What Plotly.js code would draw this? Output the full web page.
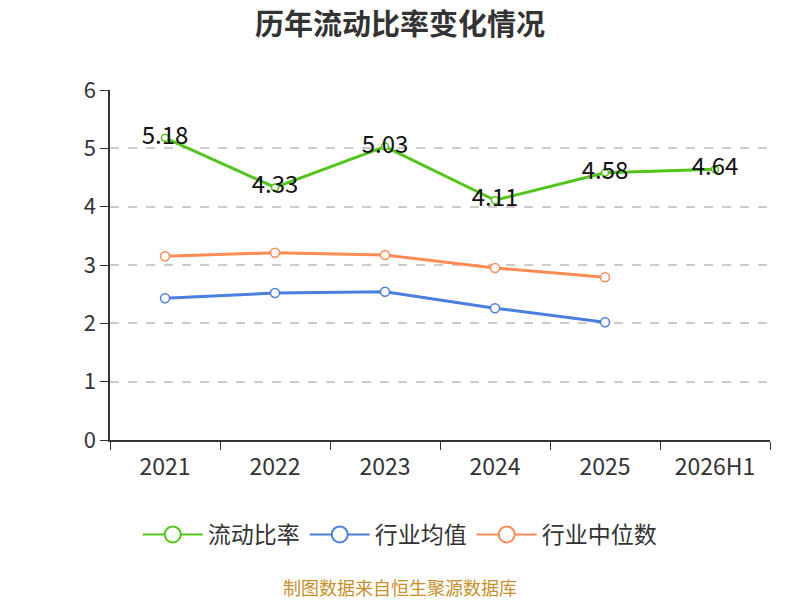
<!DOCTYPE html>
<html>
<head>
<meta charset="utf-8">
<script src="https://cdn.plot.ly/plotly-3.0.1.min.js"></script>
<style>
  body { margin: 0; background: #fff; }
  #chart { width: 800px; height: 600px; }
</style>
</head>
<body>
<div id="chart"></div>
<script>
var years = ['2021', '2022', '2023', '2024', '2025', '2026H1'];
var currentRatio = [5.18, 4.33, 5.03, 4.11, 4.58, 4.64];
var industryMean = [2.43, 2.52, 2.54, 2.26, 2.02];
var industryMedian = [3.15, 3.21, 3.17, 2.95, 2.79];

var names = ['流动比率', '行业均值', '行业中位数'];
var colors = ['#52c41a', '#4a7fe0', '#ff8c55'];
var font = '"Noto Sans CJK SC", "Noto Sans", sans-serif';

function line(y, i, withText) {
  var t = {
    x: years.slice(0, y.length),
    y: y,
    type: 'scatter',
    mode: withText ? 'lines+markers+text' : 'lines+markers',
    name: names[i],
    showlegend: false,
    line: { color: colors[i], width: 3 },
    marker: { symbol: 'circle', size: withText ? 7 : 9, color: '#fff', line: { color: colors[i], width: 1.5 } },
    hoverinfo: 'x+y'
  };
  if (withText) {
    t.text = y.map(function(v) { return v.toFixed(2); });
    t.textposition = 'middle center';
    t.textfont = { family: font, size: 24, color: '#111' };
  }
  return t;
}

// legend-only entries, with bigger circles like the original
function legendItem(i) {
  return {
    x: [null], y: [null],
    type: 'scatter',
    mode: 'lines+markers',
    name: names[i],
    line: { color: colors[i], width: 2 },
    marker: { symbol: 'circle', size: 16, color: '#fff', line: { color: colors[i], width: 2 } }
  };
}

var data = [
  line(industryMedian, 2, false),
  line(industryMean, 1, false),
  line(currentRatio, 0, true),
  legendItem(0), legendItem(1), legendItem(2)
];

var layout = {
  width: 800,
  height: 600,
  margin: { t: 90, b: 160, l: 110, r: 30 },
  paper_bgcolor: '#fff',
  plot_bgcolor: '#fff',
  font: { family: font, color: '#333' },
  title: {
    text: '<b>历年流动比率变化情况</b>',
    x: 0.5, xanchor: 'center',
    y: 0.958, yanchor: 'middle',
    font: { family: font, size: 29, color: '#333' }
  },
  xaxis: {
    type: 'category',
    range: [-0.5, 5.5],
    showline: true, linecolor: '#333', linewidth: 1.5,
    ticks: 'outside', tickson: 'boundaries', ticklen: 8, tickcolor: '#333',
    ticklabelstandoff: 6,
    tickfont: { size: 23, color: '#333' },
    showgrid: false, zeroline: false
  },
  yaxis: {
    range: [0, 6],
    dtick: 1,
    showline: true, linecolor: '#333', linewidth: 1.5,
    ticks: 'outside', ticklen: 8, tickcolor: '#333',
    tickfont: { size: 22, color: '#333' },
    gridcolor: '#cccccc', griddash: 'dash', gridwidth: 1.5,
    zeroline: false
  },
  legend: {
    orientation: 'h',
    x: 0.439, xanchor: 'center',
    y: -0.27, yanchor: 'middle',
    font: { size: 23, color: '#333' },
    itemwidth: 60
  },
  annotations: [{
    text: '制图数据来自恒生聚源数据库',
    xref: 'paper', yref: 'paper',
    x: 0.439, y: -0.42,
    xanchor: 'center', yanchor: 'middle',
    showarrow: false,
    font: { family: font, size: 18, color: '#c8902a' }
  }]
};

Plotly.newPlot('chart', data, layout, { displayModeBar: false });
</script>
</body>
</html>
